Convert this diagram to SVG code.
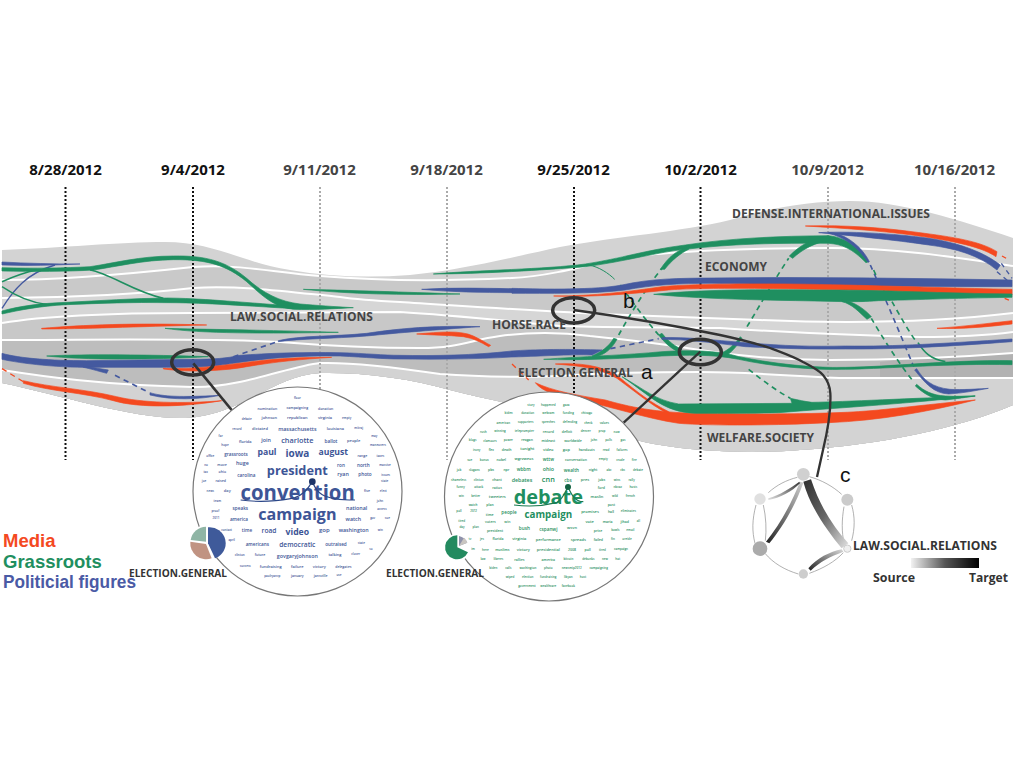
<svg xmlns="http://www.w3.org/2000/svg" width="1024" height="768" viewBox="0 0 1024 768">
<style>
text{font-family:"Open Sans","Liberation Sans",sans-serif}
.date{font-size:15px;font-weight:700;text-anchor:middle}
.lab{font-size:12.4px;font-weight:700;fill:#444}
.r{fill:#f4491f;stroke:#f4491f;stroke-width:2}.g{fill:#1f8f60;stroke:#1f8f60;stroke-width:2}.b{fill:#44599f;stroke:#44599f;stroke-width:2}
.sr,.sg,.sb{fill:none}
.sr{stroke:#f4491f}.sg{stroke:#1f8f60}.sb{stroke:#44599f}
.d{stroke-dasharray:16 13}
.wl{stroke:#fff;stroke-width:2;fill:none}
.cl{fill:#fff;stroke:#777;stroke-width:1.2}
.ann{fill:none;stroke:#333}
.w text{font-weight:600;text-anchor:middle;dominant-baseline:central}
.w .big{font-weight:700}
.wa text{fill:#3d5596}.wb text{fill:#1f8f60}
.s9{font-size:9px}.s10{font-size:10.5px}.s12{font-size:12px}.s14{font-size:14px}.s16{font-size:16px}.s18{font-size:18px}.s20{font-size:20px}.s22{font-size:22px}.s26{font-size:26px}.s30{font-size:30px}
.arc{fill:none;stroke:#8a8a8a;stroke-width:2}
.let{font-family:"Liberation Sans",Arial,sans-serif;font-size:21px;fill:#111}
.leg{font-family:"Liberation Sans",Arial,sans-serif;font-size:18.5px;font-weight:700}
</style>
<defs>
<clipPath id="env"><path d="M2 250C60 248 120 242 165 242C215 242 240 262 290 270C330 277 370 278 410 275C460 270 500 260 560 247C620 236 680 232 730 220C770 208 810 201 850 201C900 201 960 220 1013 238L1013 405C960 428 880 445 800 450C740 455 660 450 620 435C570 415 510 405 450 390C410 378 360 372 320 373C270 376 240 418 180 418C130 418 60 395 2 383Z"/></clipPath>
<linearGradient id="gr1" x1="0" y1="0" x2="1" y2="1"><stop offset="0" stop-color="#2e2e2e"/><stop offset=".5" stop-color="#666"/><stop offset="1" stop-color="#e2e2e2"/></linearGradient>
<linearGradient id="gr2" x1="1" y1="0" x2="0" y2="1"><stop offset="0" stop-color="#cfcfcf"/><stop offset="1" stop-color="#222"/></linearGradient>
<linearGradient id="gr3" x1="0" y1="1" x2="1" y2="0"><stop offset="0" stop-color="#e0e0e0"/><stop offset="1" stop-color="#333"/></linearGradient>
<linearGradient id="gr4" x1="1" y1="0" x2="0" y2="1"><stop offset="0" stop-color="#d8d8d8"/><stop offset="1" stop-color="#222"/></linearGradient>
<linearGradient id="grL" x1="0" y1="0" x2="1" y2="0"><stop offset="0" stop-color="#f2f2f2"/><stop offset=".5" stop-color="#555"/><stop offset="1" stop-color="#000"/></linearGradient>
</defs>

<g id="bands" clip-path="url(#env)">
<rect x="0" y="190" width="1024" height="280" fill="#d3d3d3"/>
<path fill="#c9c9c9" d="M2 280C60 280 120 275 193 267C240 264 270 272 320 276C380 281 450 281 512 278C540 277 570 270 620 258C680 250 760 248 830 248C900 248 960 258 1013 266L1013 470L2 470Z"/>
<path fill="#d6d6d6" d="M2 298C100 297 150 293 193 288C240 285 290 292 340 297C360 300 380 301 400 302C450 305 520 310 600 314C660 316 700 318 760 320C830 323 920 324 1013 313L1013 470L2 470Z"/>
<path fill="#c8c8c8" d="M2 323C50 315 120 313 193 313C260 313 330 312 400 312C450 315 500 320 560 326C620 328 680 327 720 328C780 332 840 335 920 337C960 337 990 335 1013 332L1013 470L2 470Z"/>
<path fill="#bdbdbd" d="M2 340C100 340 200 338 280 342C330 346 370 348 420 348C460 348 470 340 500 336C530 332 560 332 590 336C630 340 670 345 700 350C750 358 800 360 830 360C880 360 950 358 1013 353L1013 470L2 470Z"/>
<path fill="#b2b2b2" d="M880 362C920 358 970 356 1013 353L1013 380L880 380Z"/>
<path fill="#d3d3d3" d="M2 370C40 376 100 385 193 387C240 388 290 366 320 363C350 362 400 368 440 374C480 377 540 378 574 375C620 372 660 372 700 372C760 372 810 378 850 378C900 378 960 378 1013 378L1013 470L2 470Z"/>
<path class="wl" d="M2 280C60 280 120 275 193 267C240 264 270 272 320 276C380 281 450 281 512 278C540 277 570 270 620 258C680 250 760 248 830 248C900 248 960 258 1013 266"/>
<path class="wl" d="M2 298C100 297 150 293 193 288C240 285 290 292 340 297C360 300 380 301 400 302C450 305 520 310 600 314C660 316 700 318 760 320C830 323 920 324 1013 313"/>
<path class="wl" d="M2 323C50 315 120 313 193 313C260 313 330 312 400 312C450 315 500 320 560 326C620 328 680 327 720 328C780 332 840 335 920 337C960 337 990 335 1013 332"/>
<path class="wl" d="M2 340C100 340 200 338 280 342C330 346 370 348 420 348C460 348 470 340 500 336C530 332 560 332 590 336C630 340 670 345 700 350C750 358 800 360 830 360C880 360 950 358 1013 353"/>
<path class="wl" d="M2 370C40 376 100 385 193 387C240 388 290 366 320 363C350 362 400 368 440 374C480 377 540 378 574 375C620 372 660 372 700 372C760 372 810 378 850 378C900 378 960 378 1013 378"/>
</g>

<g id="timeline" fill="none">
<g stroke="#111" stroke-width="2" stroke-dasharray="2 2"><path d="M65.5 187V460M193 187V460M574 187V460M700.5 187V460"/></g>
<g stroke="#aaa" stroke-width="2" stroke-dasharray="2 2"><path d="M320 187V460M447 187V460M828 187V460M955 187V460"/></g>
</g>
<g id="dates">
<text class="date" x="65.5" y="175" fill="#111">8/28/2012</text>
<text class="date" x="193" y="175" fill="#111">9/4/2012</text>
<text class="date" x="319.5" y="175" fill="#444">9/11/2012</text>
<text class="date" x="446.5" y="175" fill="#444">9/18/2012</text>
<text class="date" x="573.5" y="175" fill="#111">9/25/2012</text>
<text class="date" x="700.5" y="175" fill="#111">10/2/2012</text>
<text class="date" x="827.5" y="175" fill="#444">10/9/2012</text>
<text class="date" x="954.5" y="175" fill="#444">10/16/2012</text>
</g>

<g id="connectors">
<g id="streams-left" transform="translate(0,150) scale(.33333)">
<path class="b" d="M6 336C80 340 160 342 240 342C160 346 80 348 6 345Z"/>
<path class="sb" stroke-width="4" d="M6 475C40 420 80 370 165 345"/>
<path class="g" d="M6 353C100 356 200 354 270 350C340 340 420 318 520 318C620 316 680 335 740 385C790 430 840 455 900 462C950 466 1000 470 1060 473C1000 476 950 480 880 478C820 470 790 440 740 395C680 345 620 328 520 329C430 330 350 350 280 360C200 365 100 365 6 363Z"/>
<path class="sg" stroke-width="5" d="M270 360C330 370 400 425 490 445"/>
<path class="sg" stroke-width="5" d="M6 395C40 380 70 368 110 360"/>
<path class="sg" stroke-width="4" d="M6 410C50 440 90 458 140 463"/>
<path class="g" d="M6 483C60 468 120 460 200 457C300 452 400 445 500 444C600 445 700 455 880 468L880 476C700 465 600 458 500 458C400 456 300 460 200 464C120 468 60 480 6 492Z"/>
<path class="r" d="M125 535C250 525 400 518 620 525C400 530 250 537 125 537Z"/>
<path class="g" d="M495 535C600 538 800 540 1015 547C800 551 600 551 495 535Z"/>
<path class="g" d="M140 618C250 612 450 614 625 620C450 630 250 630 140 618Z"/>
<path class="b" d="M6 610C60 625 150 632 260 632L580 628C640 628 680 625 720 616C800 610 900 606 1020 608C1100 610 1150 616 1200 616C1300 618 1420 616 1536 603L1536 621C1420 628 1300 628 1200 627C1150 627 1100 622 1020 618C900 616 800 624 700 640C640 650 600 652 500 652L300 652C180 655 60 640 6 628Z"/>
<path class="b" d="M250 648L325 660L320 670C290 662 270 656 250 652Z"/>
<path class="sb d" stroke-width="5" d="M345 676L440 724"/>
<path class="b" d="M450 728C490 740 540 742 660 736C600 748 520 752 450 735Z"/>
<path class="sb d" stroke-width="5" d="M700 620L835 574"/>
<path class="r" d="M70 692C150 712 250 716 350 740C420 758 550 762 665 752C560 770 420 776 340 752C250 728 150 724 70 700Z"/>
<path class="sr d" stroke-width="4" d="M6 656L70 695"/>
<path class="r" d="M490 655C600 660 700 640 800 630C860 624 930 622 995 622C900 628 830 635 740 650C680 662 570 668 490 657Z"/>
<path class="b" d="M835 572C900 556 1000 560 1100 550C1200 535 1300 526 1440 530C1300 540 1200 548 1100 558C1000 566 900 566 835 575Z"/>
<path class="g" d="M910 418C1100 422 1250 428 1380 432C1200 436 1050 432 910 418Z"/>
<path class="b" d="M1265 418C1350 412 1450 415 1536 416L1536 428C1450 428 1350 426 1265 418Z"/>
<path class="r" d="M1250 552C1320 546 1380 540 1420 558C1440 567 1460 580 1472 586L1466 590C1440 575 1420 565 1390 560C1340 555 1300 556 1250 552Z"/>
</g>
<g id="streams-right" transform="translate(512,150) scale(.33333)">
<path class="g" d="M-236 372C-100 360 100 358 220 342C330 325 400 300 520 285C650 265 800 258 950 257C1000 262 1040 290 1070 335L1062 338C1020 295 990 283 950 280C800 278 650 282 520 298C440 305 340 335 220 350C100 360 -100 372 -236 372Z"/>
<path class="sg" stroke-width="3" d="M230 345C260 350 290 370 308 388"/>
<path class="sg d" stroke-width="5" d="M325 405C350 440 400 510 440 555"/>
<path class="g" d="M440 555L450 550C470 575 490 590 510 598L500 606C475 595 455 575 440 555Z"/>
<path class="g" d="M240 618C270 605 290 590 305 565L315 568C300 595 280 615 245 622Z"/>
<path class="sg d" stroke-width="5" d="M320 555C345 510 400 415 450 355"/>
<path class="g" d="M445 358C470 320 490 305 530 288L530 298C505 310 480 330 458 358Z"/>
<path class="g" d="M630 608C650 600 670 580 685 560L690 565C670 595 655 610 640 618Z"/>
<path class="sg d" stroke-width="5" d="M705 530C730 490 780 400 830 325"/>
<path class="g" d="M832 318C865 285 900 265 950 258L950 272C910 278 875 295 842 325Z"/>
<path class="sg d" stroke-width="5" d="M710 658C750 690 790 720 835 745"/>
<path class="b" d="M950 247C1000 250 1050 290 1072 335L1068 337C1040 295 1000 262 950 250Z"/>
<path class="sb d" stroke-width="5" d="M1075 345C1100 400 1160 540 1205 650"/>
<path class="sg d" stroke-width="5" d="M1085 360C1100 395 1120 430 1135 455"/>
<path class="b" d="M1214 656C1235 690 1260 712 1314 718C1350 720 1400 717 1429 715C1390 722 1350 730 1310 732C1265 730 1240 700 1208 660Z"/>
<path class="sg d" stroke-width="5" d="M1078 505C1110 560 1160 640 1205 695"/>
<path class="g" d="M1214 703C1235 722 1260 736 1300 738C1330 740 1360 738 1389 738C1350 744 1320 748 1300 750C1260 748 1235 730 1210 708Z"/>
<path class="sg d" stroke-width="5" d="M1140 455C1160 490 1190 545 1215 578"/>
<path class="sg" stroke-width="5" d="M1218 578C1235 605 1255 628 1300 635"/>
<path class="b" d="M0 415C100 418 250 420 330 405C420 385 500 385 600 384C900 380 1200 385 1500 390L1500 410C1200 412 900 405 600 400C500 400 420 405 340 420C250 432 100 430 0 430Z"/>
<path class="r" d="M125 438C250 438 350 425 450 410C550 400 800 400 1000 405C1200 410 1350 415 1500 418L1500 435L1420 435C1300 430 1150 422 1000 420C800 415 550 412 470 420C350 432 250 442 125 438Z"/>
<path class="g" d="M425 433C600 415 800 420 950 420C1100 420 1300 430 1500 432L1500 442C1300 445 1200 450 1100 452C1060 455 1040 455 1000 455C800 450 600 450 425 433Z"/>
<path class="g" d="M990 450C1030 455 1060 480 1078 500L1065 508C1040 485 1020 462 990 455Z"/>
<path class="r" d="M1275 535C1350 530 1430 520 1500 512L1500 522C1430 530 1350 538 1275 535Z"/>
<path class="r" d="M880 228C1000 225 1100 232 1200 245C1300 258 1400 270 1455 305L1452 320C1400 285 1300 270 1200 255C1100 242 1000 235 880 228Z"/>
<path class="b" d="M920 248C1000 243 1150 250 1250 265C1350 280 1420 310 1465 345L1455 360C1400 315 1330 295 1250 285C1150 270 1000 255 920 248Z"/>
<path class="sr" stroke-width="4" stroke-dasharray="14 12" d="M1470 318L1492 330M1478 445L1492 451"/>
<path class="sb" stroke-width="4" stroke-dasharray="14 12" d="M1468 340L1500 385M1455 365L1490 395"/>
<path class="b" d="M0 603C60 598 180 597 270 600L240 615C180 612 60 620 0 621Z"/>
<path class="sb d" stroke-width="5" d="M295 596L440 566"/>
<path class="b" d="M450 563C520 560 600 570 700 578C820 588 900 590 1000 588C1150 590 1300 580 1500 567L1500 575C1300 590 1150 598 1000 597C900 598 820 596 700 590C600 578 520 568 450 568Z"/>
<path class="r" d="M130 642C200 638 270 645 320 680C380 730 420 760 470 785L465 790C410 760 370 725 315 685C260 652 200 648 130 642Z"/>
<path class="sr d" stroke-width="4" d="M0 642L50 690"/>
<path class="r" d="M70 698C120 722 190 735 280 750C350 770 430 788 560 790C700 792 950 795 1100 780C1200 770 1300 758 1390 750C1250 785 1100 812 950 818C800 826 600 828 500 820C400 805 300 770 200 750C140 740 90 725 70 698Z"/>
<path class="g" d="M330 680C400 720 430 750 500 762L840 760L835 745C860 750 880 755 900 757C1000 755 1200 745 1390 738C1200 760 1000 772 800 788C700 790 650 790 550 790C450 785 420 740 330 680Z"/>
<path class="g" d="M95 628C200 620 350 615 450 605C520 600 620 600 680 620C780 640 900 655 1000 652C1150 650 1300 630 1500 632L1500 644C1300 640 1150 655 1000 658C900 660 780 650 680 628C600 612 520 615 450 618C350 625 200 632 95 628Z"/>
</g>
<g id="annotations" class="ann">
<g transform="translate(0,150) scale(.33333)">
<ellipse cx="578" cy="637" rx="63" ry="38" stroke-width="10.5"/>
<path stroke-width="8" d="M580 640L695 780"/>
</g>
<g transform="translate(512,150) scale(.33333)">
<ellipse cx="185" cy="481" rx="63" ry="38" stroke-width="10.5"/>
<ellipse cx="565" cy="606" rx="63" ry="38" stroke-width="10.5"/>
<path stroke-width="7" d="M565 605L335 818"/>
<path stroke-width="7" d="M185 480C330 500 480 525 624 555C680 567 730 580 774 594C810 608 845 620 873 636C900 650 920 660 933 675C950 695 954 710 955 730C958 790 945 850 933 900L915 981"/>
</g>
</g>
</g>

<g id="topic-labels">
<text class="lab" x="230" y="320.5" textLength="143" lengthAdjust="spacingAndGlyphs">LAW.SOCIAL.RELATIONS</text>
<text class="lab" x="492" y="329" textLength="74" lengthAdjust="spacingAndGlyphs">HORSE.RACE</text>
<text class="lab" x="705" y="270.5" textLength="62" lengthAdjust="spacingAndGlyphs">ECONOMY</text>
<text class="lab" x="732" y="218" textLength="198" lengthAdjust="spacingAndGlyphs">DEFENSE.INTERNATIONAL.ISSUES</text>
<text class="lab" x="518" y="377" textLength="115" lengthAdjust="spacingAndGlyphs">ELECTION.GENERAL</text>
<text class="lab" x="707" y="442" textLength="107" lengthAdjust="spacingAndGlyphs">WELFARE.SOCIETY</text>
</g>

<g id="cloud-a">
<circle class="cl" cx="297.5" cy="491.5" r="104.5"/>
<g class="w wa" transform="translate(180,385) scale(.33333)">
<text class="s9" x="352" y="40">floor</text>
<text class="s10" x="262" y="70">nomination</text><text class="s10" x="352" y="67">campaigning</text><text class="s10" x="437" y="70">donation</text>
<text class="s9" x="200" y="101">debate</text><text class="s12" x="268" y="98">johnson</text><text class="s12" x="352" y="98">republican</text><text class="s12" x="435" y="98">virginia</text><text class="s9" x="500" y="99">empty</text>
<text class="s9" x="171" y="133">record</text><text class="s12" x="240" y="131">dictated</text><text class="s16" x="352" y="131">massachusetts</text><text class="s12" x="466" y="131">louisiana</text><text class="s9" x="536" y="130">mitraj</text>
<text class="s9" x="122" y="154">far</text><text class="s12" x="196" y="169">florida</text><text class="s16" x="258" y="164">join</text><text class="s22" x="352" y="165">charlotte</text><text class="s14" x="453" y="168">ballot</text><text class="s12" x="521" y="168">people</text><text class="s9" x="583" y="154">may</text>
<text class="s9" x="135" y="180">hope</text><text class="s9" x="594" y="180">maneuvers</text>
<text class="s9" x="91" y="212">office</text><text class="s14" x="168" y="208">grassroots</text><text class="s26 big" x="261" y="202">paul</text><text class="s30 big" x="352" y="205">iowa</text><text class="s26 big" x="460" y="201">august</text><text class="s10" x="547" y="212">range</text><text class="s9" x="601" y="212">taxes</text>
<text class="s9" x="78" y="240">no</text><text class="s10" x="126" y="240">move</text><text class="s16" x="187" y="235">huge</text><text class="s14" x="483" y="239">ron</text><text class="s14" x="550" y="239">north</text><text class="s9" x="615" y="240">massive</text>
<text class="s9" x="77" y="260">tax</text><text class="s10" x="127" y="259">ohio</text><text class="s14" x="199" y="270">carolina</text><text class="big" style="font-size:39px" x="352" y="254" textLength="183" lengthAdjust="spacingAndGlyphs">president</text><text class="s16" x="489" y="266">ryan</text><text class="s14" x="555" y="268">photo</text><text class="s9" x="617" y="271">issues</text>
<text class="s9" x="72" y="288">joe</text><text class="s10" x="122" y="288">raised</text><text class="s9" x="614" y="289">state</text>
<text class="s9" x="91" y="318">news</text><text class="s12" x="142" y="318">day</text><text class="big" style="font-size:64px" x="353" y="320" textLength="343" lengthAdjust="spacingAndGlyphs">convention</text><text class="s10" x="561" y="318">five</text><text class="s9" x="610" y="319">elect</text>
<text class="s9" x="112" y="348">team</text><text class="s9" x="600" y="349">john</text>
<text class="s9" x="106" y="377">proof</text><text class="s14" x="181" y="369">speaks</text><text class="big" style="font-size:50px" x="352" y="385" textLength="235" lengthAdjust="spacingAndGlyphs">campaign</text><text class="s16" x="530" y="368">national</text><text class="s9" x="606" y="373">access</text>
<text class="s9" x="108" y="400">2011</text><text class="s14" x="177" y="403">america</text><text class="s16" x="520" y="403">watch</text><text class="s9" x="578" y="400">gov</text><text class="s9" x="622" y="400">sue</text>
<text class="s9" x="140" y="435">contact</text><text class="s14" x="201" y="436">time</text><text class="s20" x="267" y="437">road</text><text class="s26 big" x="352" y="440">video</text><text class="s18" x="433" y="434">gop</text><text class="s16" x="521" y="436">washington</text><text class="s9" x="601" y="434">win</text>
<text class="s9" x="155" y="465">april</text><text class="s14" x="232" y="477">americans</text><text class="s20" x="352" y="478">democratic</text><text class="s14" x="468" y="477">outraised</text><text class="s9" x="544" y="475">state</text><text class="s9" x="573" y="493">so</text>
<text class="s9" x="179" y="510">clinton</text><text class="s10" x="240" y="510">future</text><text class="s16" x="352" y="512">govgaryjohnson</text><text class="s12" x="465" y="509">talking</text><text class="s9" x="527" y="508">closer</text>
<text class="s9" x="196" y="542">success</text><text class="s12" x="272" y="545">fundraising</text><text class="s12" x="352" y="545">failure</text><text class="s12" x="418" y="545">victory</text><text class="s10" x="490" y="544">delegates</text>
<text class="s9" x="277" y="573">paulryanvp</text><text class="s10" x="352" y="573">january</text><text class="s10" x="422" y="573">jansville</text><text class="s9" x="477" y="569">use</text>
<path d="M182 345C230 352 300 350 345 338C370 330 385 310 397 290C410 320 420 345 525 345" fill="none" stroke="#2c4788" stroke-width="3.5"/>
<circle cx="397" cy="290" r="10" fill="#1d3468"/>
<circle cx="80" cy="473" r="53" fill="#fff"/>
<path d="M84 475L84 427A48 48 0 0 1 105 520Z" fill="#3f5a9a"/>
<path d="M78 477L95 520A48 48 0 0 1 31 470Z" fill="#c09382"/>
<path d="M78 470L32 465A48 48 0 0 1 78 425Z" fill="#8fb5a5"/>
</g>
</g>

<g id="cloud-b">
<circle class="cl" cx="549" cy="496.5" r="104.5"/>
<g class="w wb" transform="translate(440,390) scale(.33333)">
<text class="s9" x="273" y="45">story</text><text class="s9" x="325" y="45">happened</text><text class="s9" x="379" y="45">gaza</text>
<text class="s9" x="206" y="70">biden</text><text class="s9" x="263" y="70">donation</text><text class="s9" x="325" y="70">webcam</text><text class="s9" x="385" y="70">funding</text><text class="s9" x="440" y="70">chicago</text>
<text class="s9" x="190" y="98">american</text><text class="s9" x="257" y="96">supporters</text><text class="s9" x="325" y="96">speeches</text><text class="s9" x="390" y="96">defending</text><text class="s9" x="445" y="99">check</text><text class="s9" x="493" y="99">values</text>
<text class="s9" x="130" y="125">rush</text><text class="s9" x="180" y="124">winning</text><text class="s9" x="253" y="123">teleprompter</text><text class="s10" x="325" y="124">record</text><text class="s10" x="381" y="124">deficit</text><text class="s9" x="437" y="124">denver</text><text class="s9" x="486" y="124">prop</text><text class="s9" x="530" y="125">now</text>
<text class="s9" x="98" y="151">blogs</text><text class="s9" x="150" y="152">clamours</text><text class="s9" x="205" y="150">power</text><text class="s10" x="261" y="149">reagan</text><text class="s10" x="325" y="151">mideast</text><text class="s10" x="399" y="151">worldwide</text><text class="s9" x="462" y="150">john</text><text class="s9" x="506" y="151">polls</text><text class="s9" x="549" y="151">gas</text>
<text class="s9" x="110" y="180">irony</text><text class="s9" x="154" y="180">flex</text><text class="s10" x="200" y="180">death</text><text class="s12" x="262" y="177">tonight</text><text class="s12" x="325" y="179">video</text><text class="s12" x="379" y="178">gop</text><text class="s10" x="440" y="180">handouts</text><text class="s9" x="498" y="180">read</text><text class="s9" x="546" y="181">failures</text>
<text class="s9" x="89" y="209">sue</text><text class="s9" x="133" y="209">bonus</text><text class="s10" x="184" y="209">nobel</text><text class="s12" x="252" y="206">wgrzweos</text><text class="s14" x="325" y="207">wttw</text><text class="s10" x="408" y="208">conversation</text><text class="s9" x="490" y="207">empty</text><text class="s9" x="541" y="210">crude</text><text class="s9" x="583" y="210">fire</text>
<text class="s9" x="57" y="239">job</text><text class="s9" x="103" y="239">slogans</text><text class="s10" x="153" y="239">pbs</text><text class="s10" x="199" y="239">npr</text><text class="s14" x="251" y="238">wbbm</text><text class="s16" x="325" y="237">ohio</text><text class="s14" x="394" y="239">wealth</text><text class="s10" x="459" y="239">night</text><text class="s9" x="507" y="240">abc</text><text class="s9" x="548" y="240">cbs</text><text class="s9" x="594" y="240">debate</text>
<text class="s9" x="56" y="270">shameless</text><text class="s9" x="116" y="271">clinton</text><text class="s10" x="171" y="270">chant</text><text class="s16" x="246" y="269">debates</text><text class="s22" x="325" y="268">cnn</text><text class="s14" x="384" y="270">cbs</text><text class="s12" x="435" y="268">pres</text><text class="s10" x="485" y="270">jobs</text><text class="s9" x="531" y="271">wins</text><text class="s9" x="575" y="270">rally</text>
<text class="s9" x="62" y="292">funny</text><text class="s9" x="116" y="292">attack</text><text class="s10" x="171" y="292">ratios</text><text class="s10" x="484" y="292">ford</text><text class="s9" x="533" y="292">nbcaz</text><text class="s9" x="580" y="292">hosts</text>
<text class="s9" x="64" y="319">win</text><text class="s9" x="107" y="319">better</text><text class="s12" x="172" y="319">tweeters</text><text class="big" style="font-size:58px" x="325" y="320" textLength="208" lengthAdjust="spacingAndGlyphs">debate</text><text class="s12" x="471" y="319">maslin</text><text class="s9" x="525" y="318">wild</text><text class="s9" x="571" y="318">french</text>
<text class="s9" x="99" y="345">watch</text><text class="s10" x="150" y="345">plan</text><text class="s10" x="514" y="345">post</text>
<text class="s9" x="57" y="363">poll</text><text class="s9" x="101" y="363">2012</text><text class="s10" x="149" y="375">time</text><text class="s14" x="207" y="365">people</text><text class="big" style="font-size:31px" x="325" y="373" textLength="143" lengthAdjust="spacingAndGlyphs">campaign</text><text class="s12" x="450" y="366">promises</text><text class="s10" x="513" y="365">hall</text><text class="s9" x="565" y="363">eliminates</text>
<text class="s9" x="65" y="394">tired</text><text class="s10" x="151" y="394">voters</text><text class="s10" x="202" y="396">win</text><text class="s12" x="449" y="395">vote</text><text class="s10" x="503" y="396">maria</text><text class="s10" x="554" y="395">jihad</text><text class="s9" x="595" y="394">all</text>
<text class="s9" x="66" y="411">day</text><text class="s9" x="107" y="411">plan</text><text class="s10" x="165" y="423">president</text><text class="s14" x="253" y="414">bush</text><text class="s14" x="325" y="416">cspanwj</text><text class="s12" x="396" y="412">wsvn</text><text class="s10" x="474" y="423">price</text><text class="s9" x="526" y="421">bowls</text><text class="s9" x="571" y="421">email</text>
<text class="s9" x="90" y="447">tv</text><text class="s9" x="126" y="447">jes</text><text class="s10" x="174" y="447">florida</text><text class="s12" x="238" y="447">virginia</text><text class="s12" x="325" y="448">performance</text><text class="s12" x="415" y="448">spreads</text><text class="s10" x="475" y="448">failed</text><text class="s9" x="519" y="447">fin</text><text class="s9" x="561" y="447">oreide</text>
<text class="s9" x="99" y="477">im</text><text class="s9" x="136" y="479">here</text><text class="s10" x="187" y="479">muslims</text><text class="s12" x="250" y="479">victory</text><text class="s12" x="325" y="480">presidential</text><text class="s10" x="396" y="478">2008</text><text class="s10" x="443" y="479">poll</text><text class="s9" x="487" y="479">tired</text><text class="s9" x="543" y="478">campaign</text>
<text class="s9" x="129" y="508">law</text><text class="s9" x="175" y="508">liberes</text><text class="s10" x="238" y="508">rallies</text><text class="s10" x="325" y="509">america</text><text class="s9" x="385" y="508">bitcoin</text><text class="s9" x="445" y="508">debunks</text><text class="s9" x="495" y="508">new</text><text class="s9" x="533" y="508">hat</text>
<text class="s9" x="160" y="535">biden</text><text class="s9" x="205" y="535">calls</text><text class="s9" x="264" y="535">washington</text><text class="s9" x="325" y="535">photo</text><text class="s9" x="395" y="535">newsmip2012</text><text class="s9" x="476" y="535">campaigning</text>
<text class="s9" x="210" y="562">wiped</text><text class="s9" x="263" y="562">election</text><text class="s9" x="325" y="562">fundraising</text><text class="s9" x="385" y="562">libyan</text><text class="s9" x="429" y="562">host</text>
<text class="s9" x="261" y="589">government</text><text class="s9" x="325" y="589">wealthcare</text><text class="s9" x="385" y="589">facebook</text>
<path d="M222 345C260 350 310 348 350 338C365 332 375 310 384 291C395 315 405 335 430 335" fill="none" stroke="#1a7a50" stroke-width="3.5"/>
<circle cx="384" cy="291" r="9" fill="#136343"/>
<circle cx="52" cy="472" r="41" fill="#fff"/>
<path d="M52 472L84 487A36 36 0 1 1 52 436Z" fill="#238a5f"/>
<path d="M57 468L57 438A36 36 0 0 1 82 458Z" fill="#8f92ab"/>
<path d="M57 468L72 443A36 36 0 0 1 82 458Z" fill="#c9c5c0"/>
</g>
</g>

<g id="cloud-labels">
<text x="129" y="577" font-size="10.5" font-weight="700" fill="#333" textLength="98" lengthAdjust="spacingAndGlyphs">ELECTION.GENERAL</text>
<text x="386" y="577" font-size="10.5" font-weight="700" fill="#333" textLength="98" lengthAdjust="spacingAndGlyphs">ELECTION.GENERAL</text>
</g>

<g id="chord" transform="translate(740,450) scale(.33333)">
<path class="arc" d="M85 128C110 105 140 90 172 82M208 80C245 90 280 110 305 133M48 165C36 210 36 245 45 280M70 165C78 200 80 240 76 272M312 170C305 210 305 245 312 280M335 165C345 200 345 235 335 272M75 310C100 340 135 360 175 372M208 370C250 355 285 335 310 308"/>
<path fill="url(#gr1)" d="M190 95L213 88C240 170 280 230 325 280L305 295C260 240 210 170 190 95Z"/>
<path fill="url(#gr2)" d="M180 95C150 170 115 230 78 275L88 280C125 235 165 170 190 98Z"/>
<path fill="url(#gr3)" d="M85 145C120 135 150 115 178 95L180 100C155 125 120 145 85 150Z"/>
<path fill="url(#gr4)" d="M305 298C270 305 230 325 205 355L212 362C240 335 270 320 310 305Z"/>
<circle cx="190" cy="73" r="19" fill="#d0d0d0"/>
<circle cx="60" cy="147" r="17" fill="#e0e0e0"/>
<circle cx="322" cy="149" r="18" fill="#cbcbcb"/>
<circle cx="60" cy="296" r="22" fill="#ababab"/>
<circle cx="190" cy="372" r="14" fill="#cdcdcd"/>
<circle cx="322" cy="296" r="11" fill="#efefef" stroke="#ccc" stroke-width="3"/>
</g>
<g id="chord-labels">
<text x="853" y="550" font-size="12.4" font-weight="700" fill="#333" textLength="144" lengthAdjust="spacingAndGlyphs">LAW.SOCIAL.RELATIONS</text>
<rect x="911" y="558" width="68" height="10" fill="url(#grL)"/>
<text x="873" y="582" font-size="11.5" font-weight="700" fill="#333" textLength="42" lengthAdjust="spacingAndGlyphs">Source</text>
<text x="969" y="582" font-size="11.5" font-weight="700" fill="#333" textLength="39" lengthAdjust="spacingAndGlyphs">Target</text>
</g>

<g id="letters">
<text class="let" x="641" y="379">a</text>
<text class="let" x="623" y="308">b</text>
<text class="let" x="840" y="482">c</text>
</g>

<g id="legend">
<text class="leg" x="3" y="547" fill="#f4491f">Media</text>
<text class="leg" x="3" y="568" fill="#1f8f60">Grassroots</text>
<text class="leg" x="3" y="588" fill="#4a5aa5" textLength="133" lengthAdjust="spacingAndGlyphs">Politicial figures</text>
</g>
</svg>
